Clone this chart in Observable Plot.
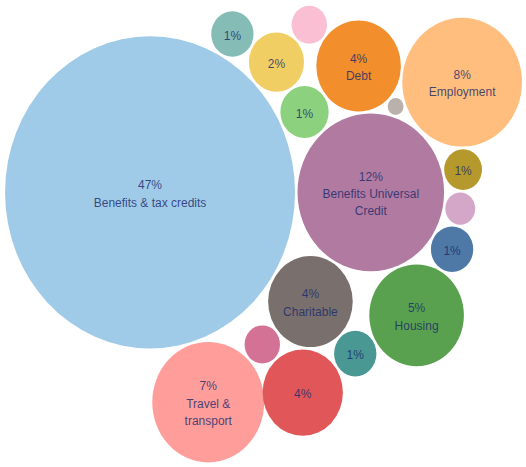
<!DOCTYPE html>
<html><head><meta charset="utf-8">
<script src="https://cdn.jsdelivr.net/npm/d3@7"></script>
<script src="https://cdn.jsdelivr.net/npm/@observablehq/plot@0.6"></script>
<style>body{margin:0;background:#fff}</style>
</head><body><div id="chart"></div>
<script>
// Categories (names shown only where visible in the source), values in %
const names = ["Benefits & tax credits", "Benefits Universal\nCredit", "Charitable", "", "", "", "Debt", "", "", "Employment", "", "", "", "Housing", "", "", "", "Travel &\ntransport"];
const values = [47, 12, 4, 1.3, 1.7, 1, 4, 0.7, 0.14, 8, 0.8, 0.5, 1, 5, 1, 3.6, 0.7, 7];
const colors = ["#a0cbe8", "#b07aa1", "#79706e", "#8cd17d", "#f1ce63", "#86bcb6", "#f28e2b", "#fabfd2", "#bab0ac", "#ffbe7d", "#b6992d", "#d4a6c8", "#4e79a7", "#59a14f", "#499894", "#e15759", "#d37295", "#ff9d9a"];
// packing topology: each bubble touches two earlier bubbles (A, B) on one side
const anchorA = [null, 0, 0, 0, 0, 0, 3, 4, 6, 6, 1, 1, 1, 1, 2, 2, 2, 0];
const anchorB = [null, null, 1, 1, 3, 4, 1, 6, 1, 8, 9, 10, 11, 12, 13, 14, 15, 16];
const sides   = [0, 0, 1, -1, -1, -1, -1, -1, -1, -1, 1, 1, 1, 1, 1, 1, 1, 1];

const W = 526, H = 467, stretch = 1.077, H0 = Math.round(H / stretch);
const rMax = 145, gap = 2.5;
const vMax = d3.max(values);
const rScale = d3.scaleSqrt().domain([0, vMax]).range([0, rMax]);
const R = values.map(rScale);
const px = [0, R[0] + R[1] + gap], py = [0, 0];
for (let i = 2; i < values.length; i++) {
  const a = anchorA[i], b = anchorB[i];
  const da = R[a] + R[i] + gap, db = R[b] + R[i] + gap;
  const dx = px[b] - px[a], dy = py[b] - py[a], d = Math.hypot(dx, dy);
  const ux = dx / d, uy = dy / d;
  const along = (da * da - db * db + d * d) / (2 * d);
  const h = Math.sqrt(Math.max(0, da * da - along * along));
  px[i] = px[a] + along * ux - sides[i] * h * uy;
  py[i] = py[a] + along * uy + sides[i] * h * ux;
}
const data = values.map((v, i) => ({
  name: names[i], value: v, color: colors[i], x: px[i], y: py[i],
  label: v >= 0.75 ? Math.round(v) + "%" + (names[i] ? "\n" + names[i] : "") : ""
}));
const x0 = d3.min(data, (d, i) => d.x - R[i]), x1 = d3.max(data, (d, i) => d.x + R[i]);
const y0 = d3.min(data, (d, i) => d.y - R[i]), y1 = d3.max(data, (d, i) => d.y + R[i]);
const cx = (x0 + x1) / 2, cy = (y0 + y1) / 2;

const chart = Plot.plot({
  width: W, height: H0, margin: 0,
  style: {background: "#fff", fontFamily: "'Liberation Sans', Arial, sans-serif"},
  x: {domain: [cx - W / 2, cx + W / 2], range: [0, W], axis: null},
  y: {domain: [cy - H0 / 2, cy + H0 / 2], range: [0, H0], axis: null},
  r: {type: "sqrt", domain: [0, vMax], range: [0, rMax]},
  color: {type: "identity"},
  marks: [
    Plot.dot(data, {x: "x", y: "y", r: "value", fill: "color"}),
    Plot.text(data.filter(d => d.label), {x: "x", y: "y", text: "label", fontSize: 12, lineHeight: 1.35, fill: "#1b2a6b", fillOpacity: 0.82})
  ]
});
chart.setAttribute("preserveAspectRatio", "none");
chart.setAttribute("height", H);
chart.style.height = H + "px";
chart.style.width = W + "px";
chart.style.maxWidth = "none";
document.getElementById("chart").appendChild(chart);
</script>
</body></html>
